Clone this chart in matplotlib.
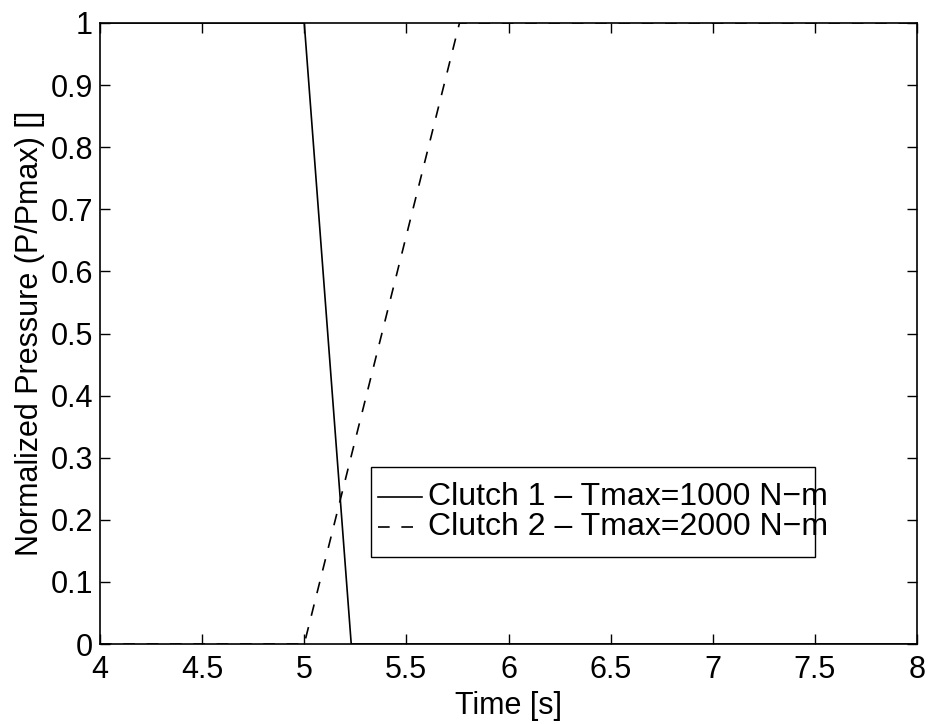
"""Normalized clutch pressure vs time, two clutches."""
import matplotlib
matplotlib.use("Agg")
import matplotlib.pyplot as plt
from matplotlib.patches import Rectangle

plt.rcParams["font.family"] = ["Liberation Sans", "DejaVu Sans"]

# clutch 1 releases, clutch 2 applies
time_c1 = [4.0, 5.0, 5.23, 8.0]
press_c1 = [1.0, 1.0, 0.0, 0.0]
time_c2 = [4.0, 5.0, 5.76, 8.0]
press_c2 = [0.0, 0.0, 1.0, 1.0]

labels = ["Clutch 1 \u2013 Tmax=1000 N\u2212m", "Clutch 2 \u2013 Tmax=2000 N\u2212m"]
xticks = [4, 4.5, 5, 5.5, 6, 6.5, 7, 7.5, 8]
yticks = [0, 0.1, 0.2, 0.3, 0.4, 0.5, 0.6, 0.7, 0.8, 0.9, 1]

W, H = 930, 724
fig = plt.figure(figsize=(W / 100, H / 100), dpi=100)
ax = fig.add_axes([100 / W, (H - 644) / H, 817 / W, 621 / H])

styles = ["-", (0, (7, 7))]
ax.plot(time_c1, press_c1, color="black", linewidth=1.2, linestyle=styles[0])
ax.plot(time_c2, press_c2, color="black", linewidth=1.2, linestyle=styles[1])

ax.set_xlim(4, 8)
ax.set_ylim(0, 1)
ax.set_xticks(xticks)
ax.set_xticklabels([f"{t:g}" for t in xticks])
ax.set_yticks(yticks)
ax.set_yticklabels([f"{t:g}" for t in yticks])
ax.tick_params(direction="in", top=True, right=True, length=7, width=1, labelsize=22)
ax.tick_params(axis="x", pad=8)
ax.tick_params(axis="y", pad=5)
for sp in ax.spines.values():
    sp.set_linewidth(1.2)

ax.set_xlabel("Time [s]", fontsize=22, labelpad=4)
ax.set_ylabel("Normalized Pressure (P/Pmax) []", fontsize=22, labelpad=4)

# MATLAB-style legend box (text runs over the right edge as in the original)
def px(x, y):
    # figure pixel (from top-left) -> figure fraction
    return x / W, 1 - y / H

x0, y0 = px(371, 557)
x1, y1 = px(815, 467)
fig.patches.append(Rectangle((x0, y0), x1 - x0, y1 - y0, transform=fig.transFigure,
                             facecolor="white", edgecolor="black", linewidth=1.0, zorder=5))
for i, (lab, ls) in enumerate(zip(labels, styles)):
    yy = 497 + i * 30
    hx0, hy = px(378, yy)
    hx1, _ = px(422, yy)
    fig.add_artist(plt.Line2D([hx0, hx1], [hy, hy], color="black", linewidth=1.2,
                              linestyle=ls, transform=fig.transFigure, zorder=6))
    tx, ty = px(428, yy)
    fig.text(tx, ty, lab, fontsize=23, va="center", ha="left", zorder=7)

fig.savefig("out.png", dpi=100)
